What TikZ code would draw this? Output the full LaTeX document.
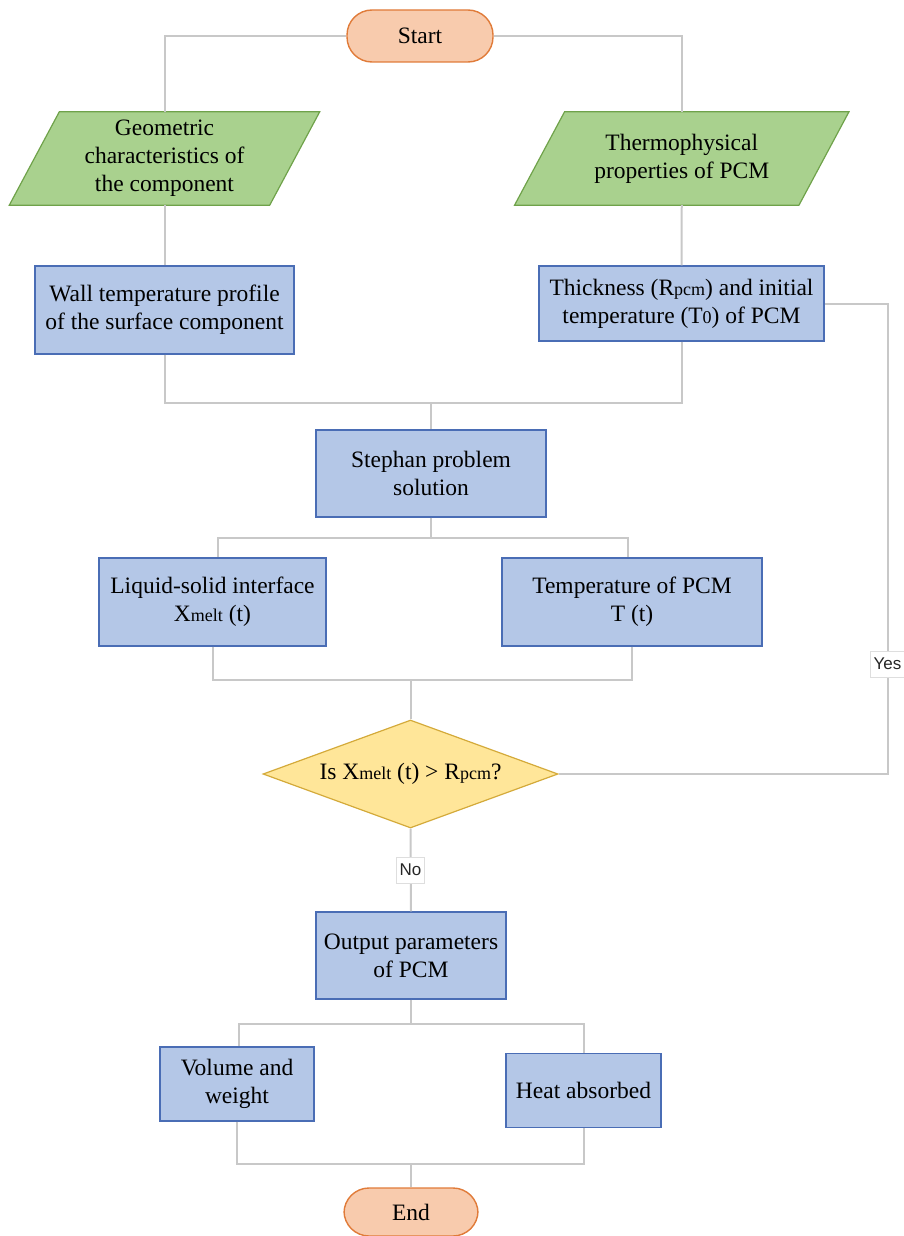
\documentclass[tikz,border=0pt]{standalone}
\usepackage{fontspec}
\setmainfont{Liberation Serif}
\newfontfamily\lblfont{Liberation Sans}
\usetikzlibrary{shapes.geometric,calc}
\definecolor{termfill}{HTML}{F8CBAD}
\definecolor{termdraw}{HTML}{E07B39}
\definecolor{parafill}{HTML}{A9D18E}
\definecolor{paradraw}{HTML}{6FA24A}
\definecolor{boxfill}{HTML}{B4C7E7}
\definecolor{boxdraw}{HTML}{4A6DB5}
\definecolor{diafill}{HTML}{FFE699}
\definecolor{diadraw}{HTML}{D4AA3A}
\definecolor{linec}{HTML}{C8C8C8}
\newcommand{\sub}[1]{{\fontsize{18}{20}\selectfont #1}}
\tikzset{
  txt/.style={font=\fontsize{23.5}{28}\selectfont, align=center, text=black},
  term/.style={txt, rectangle, rounded corners=25pt, fill=termfill, draw=termdraw, line width=1.4pt},
  pbox/.style={txt, rectangle, fill=boxfill, draw=boxdraw, line width=1.4pt, inner sep=0pt},
  parashape/.style={txt, rectangle, inner sep=0pt, minimum height=93pt},
  dia/.style={txt, diamond, fill=diafill, draw=diadraw, line width=1.2pt, inner sep=0pt, minimum width=295pt, minimum height=108pt, aspect=2.73},
  conn/.style={draw=linec, line width=2pt},
  lbl/.style={font=\lblfont\fontsize{17}{19}\selectfont, fill=white, draw=linec!60, line width=0.6pt, inner sep=3pt, minimum height=26pt, text=black!85}
}
\begin{document}
\begin{tikzpicture}[x=1pt,y=-1pt]
\useasboundingbox (0,0) rectangle (904,1236);

% Start
\node[term, minimum width=146pt, minimum height=52pt] (start) at (420,36) {Start};

% parallelograms
\node[parashape, minimum width=260pt] (geo) at (164.5,158.5) {};
\draw[fill=parafill, draw=paradraw, line width=1.2pt]
  ($(geo.north west)+(25,0)$) -- ($(geo.north east)+(25,0)$) -- ($(geo.south east)+(-25,0)$) -- ($(geo.south west)+(-25,0)$) -- cycle;
\node[txt] at (geo.center) {Geometric\\characteristics of\\the component};

\node[parashape, minimum width=284pt] (thermo) at (681.75,158.5) {};
\draw[fill=parafill, draw=paradraw, line width=1.2pt]
  ($(thermo.north west)+(25,0)$) -- ($(thermo.north east)+(25,0)$) -- ($(thermo.south east)+(-25,0)$) -- ($(thermo.south west)+(-25,0)$) -- cycle;
\node[txt] at (thermo.center) {Thermophysical\\properties of PCM};

% boxes
\node[pbox, minimum width=259pt, minimum height=88pt] (wall) at (164.5,310) {Wall temperature profile\\of the surface component};
\node[pbox, minimum width=285pt, minimum height=75pt] (thick) at (681.5,303.5) {Thickness (R\sub{pcm}) and initial\\temperature (T\sub{0}) of PCM};
\node[pbox, minimum width=230pt, minimum height=87pt] (steph) at (431,473.5) {Stephan problem\\solution};
\node[pbox, minimum width=227pt, minimum height=88pt] (liquid) at (212.5,602) {Liquid-solid interface\\X\sub{melt} (t)};
\node[pbox, minimum width=260pt, minimum height=88pt] (temp) at (632,602) {Temperature of PCM\\T (t)};
\node[dia] (dec) at (410.5,774) {Is X\sub{melt} (t) > R\sub{pcm}?};
\node[pbox, minimum width=190pt, minimum height=87pt] (out) at (411,955.5) {Output parameters\\of PCM};
\node[pbox, minimum width=154pt, minimum height=74pt] (vol) at (237,1084) {Volume and\\weight};
\node[pbox, minimum width=155pt, minimum height=74pt] (heat) at (583.5,1090.5) {Heat absorbed};
\node[term, minimum width=134pt, minimum height=48pt] (end) at (411,1212) {End};

% connectors
\coordinate (m1) at (431,403);
\coordinate (s1) at (431,538);
\coordinate (m2) at (410.5,680);
\coordinate (yc) at (887.5,774);
\coordinate (s2) at (411,1024);
\coordinate (m3) at (411,1164);

\draw[conn] (start.west) -| (geo.north);
\draw[conn] (start.east) -| (thermo.north);
\draw[conn] (geo.south) -- (wall.north);
\draw[conn] (thermo.south) -- (thick.north);
\draw[conn] (wall.south) |- (m1);
\draw[conn] (thick.south) |- (m1);
\draw[conn] (m1) -- (steph.north);
\draw[conn] (steph.south) -- (s1);
\draw[conn] (s1) -| ([xshift=5pt]liquid.north);
\draw[conn] (s1) -| ([xshift=-4pt]temp.north);
\draw[conn] (liquid.south) |- (m2);
\draw[conn] (temp.south) |- (m2);
\draw[conn] (m2) -- (dec.north);
\draw[conn] (dec.east) -- (yc) |- (thick.east);
\draw[conn] (dec.south) -- (out.north);
\draw[conn] (out.south) -- (s2);
\draw[conn] (s2) -| ([xshift=2pt]vol.north);
\draw[conn] (s2) -| (heat.north);
\draw[conn] (vol.south) |- (m3);
\draw[conn] (heat.south) |- (m3);
\draw[conn] (m3) -- (end.north);

\node[lbl] (yes) at (887.5,664) {Yes};
\node[lbl] (no) at (410.5,870) {No};
\end{tikzpicture}
\end{document}
